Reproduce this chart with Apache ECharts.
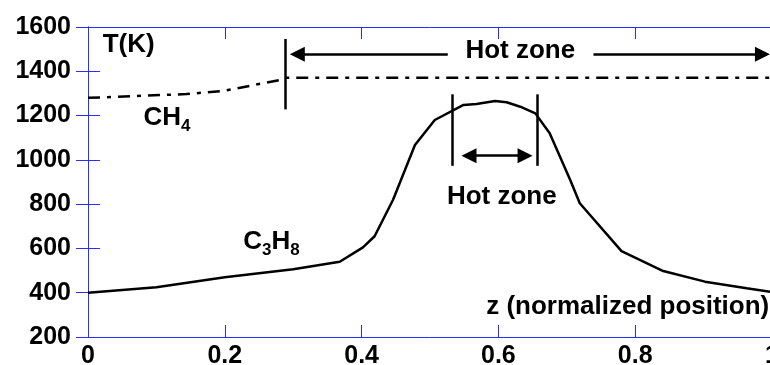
<!DOCTYPE html>
<html><head><meta charset="utf-8">
<script src="https://cdn.jsdelivr.net/npm/echarts@6/dist/echarts.min.js"></script>
<style>html,body{margin:0;padding:0;background:#fff}#c{width:770px;height:365px}</style>
</head><body><div id="c"></div>
<script>
// C3H8 temperature profile
const c3h8X = [0, 0.1, 0.2, 0.3, 0.368, 0.402, 0.419, 0.446, 0.478, 0.507, 0.549, 0.568, 0.595, 0.612, 0.632, 0.654, 0.675, 0.705, 0.719, 0.78, 0.841, 0.902, 0.963, 1.0];
const c3h8Y = [400, 425, 470, 506, 540, 605, 655, 820, 1067, 1180, 1248, 1252, 1266, 1260, 1240, 1210, 1120, 909, 804, 588, 498, 450, 420, 403];
// CH4 temperature profile
const ch4X = [0, 0.144, 0.197, 0.28, 0.288, 1.0];
const ch4Y = [1280, 1297, 1311, 1360, 1371, 1371];
// axes
const xTicks = [0, 0.2, 0.4, 0.6, 0.8, 1];
const yTicks = [200, 400, 600, 800, 1000, 1200, 1400, 1600];
// annotations (CH4 hot zone)
const hz1Edge = 0.288, hz1Span = [1228, 1546], hz1ArrowY = 1477;
const hz1ArrowLeft = [0.306, 0.526], hz1ArrowRight = [0.739, 0.986];
// annotations (C3H8 hot zone)
const hz2Edges = [0.533, 0.657], hz2Span = [973, 1296], hz2ArrowY = 1019, hz2Arrow = [0.557, 0.639];
// text labels
const textLabels = [
  {text: '{m|T(K)}', x: 0.0215, y: 1518, align: 'left'},
  {text: '{m|CH}{s|4}', x: 0.081, y: 1190, align: 'left'},
  {text: '{m|C}{s|3}{m|H}{s|8}', x: 0.227, y: 630, align: 'left'},
  {text: '{m|Hot zone}', x: 0.632, y: 1492, align: 'center'},
  {text: '{m|Hot zone}', x: 0.605, y: 832, align: 'center'},
  {text: '{m|z (normalized position)}', x: 0.996, y: 335, align: 'right'}
];

const FONT = "'Liberation Sans', Arial, sans-serif";
const AXC = '#2b2bff';
const LW = 2.5;
const chart = echarts.init(document.getElementById('c'), null, {renderer: 'canvas'});

const tri = 15;
const ml = (a, b, sa, sb) => [
  {coord: a, symbol: sa || 'none', symbolSize: tri},
  {coord: b, symbol: sb || 'none', symbolSize: tri}
];

const option = {
  animation: false,
  backgroundColor: '#fff',
  grid: {left: 88, top: 27, right: -2, bottom: 28, containLabel: false, outerBoundsMode: 'none'},
  xAxis: [{
    type: 'value', min: xTicks[0], max: xTicks[xTicks.length - 1], interval: xTicks[1] - xTicks[0],
    axisLine: {show: true, lineStyle: {color: AXC, width: 1}},
    axisTick: {show: true, inside: true, length: 12, lineStyle: {color: AXC}},
    axisLabel: {color: '#000', fontFamily: FONT, fontWeight: 'bold', fontSize: 25, margin: 7, hideOverlap: false,
      formatter: v => String(+v.toFixed(1))},
    splitLine: {show: false}
  }, {
    type: 'value', position: 'top', min: xTicks[0], max: xTicks[xTicks.length - 1], interval: xTicks[1] - xTicks[0],
    axisLine: {show: true, lineStyle: {color: AXC, width: 1}},
    axisTick: {show: true, inside: true, length: 12, lineStyle: {color: AXC}},
    axisLabel: {show: false}, splitLine: {show: false}
  }],
  yAxis: [{
    type: 'value', min: yTicks[0], max: yTicks[yTicks.length - 1], interval: yTicks[1] - yTicks[0],
    axisLine: {show: true, lineStyle: {color: AXC, width: 1}},
    axisTick: {show: true, inside: true, length: 12, lineStyle: {color: AXC}},
    axisLabel: {color: '#000', fontFamily: FONT, fontWeight: 'bold', fontSize: 25, margin: 17,
      formatter: v => String(v)},
    splitLine: {show: false}
  }, {
    type: 'value', position: 'right', min: yTicks[0], max: yTicks[yTicks.length - 1], interval: yTicks[1] - yTicks[0],
    axisLine: {show: true, lineStyle: {color: AXC, width: 1}},
    axisTick: {show: true, inside: true, length: 12, lineStyle: {color: AXC}},
    axisLabel: {show: false}, splitLine: {show: false}
  }],
  series: [{
    name: 'C3H8', type: 'line', symbol: 'none',
    data: c3h8X.map((x, i) => [x, c3h8Y[i]]),
    lineStyle: {color: '#000', width: LW},
    markLine: {
      silent: true, symbol: 'none', label: {show: false},
      lineStyle: {color: '#000', width: LW, type: 'solid'},
      emphasis: {disabled: true},
      data: [
        ml([hz1Edge, hz1Span[0]], [hz1Edge, hz1Span[1]]),
        ml([hz1ArrowLeft[0], hz1ArrowY], [hz1ArrowLeft[1], hz1ArrowY], 'triangle', 'none'),
        ml([hz1ArrowRight[0], hz1ArrowY], [hz1ArrowRight[1], hz1ArrowY], 'none', 'triangle'),
        ml([hz2Edges[0], hz2Span[0]], [hz2Edges[0], hz2Span[1]]),
        ml([hz2Edges[1], hz2Span[0]], [hz2Edges[1], hz2Span[1]]),
        ml([hz2Arrow[0], hz2ArrowY], [hz2Arrow[1], hz2ArrowY], 'triangle', 'triangle')
      ]
    }
  }, {
    name: 'CH4', type: 'line', symbol: 'none',
    data: ch4X.map((x, i) => [x, ch4Y[i]]),
    lineStyle: {color: '#000', width: LW, type: [12, 7, 4, 7]}
  }, {
    name: 'labels', type: 'scatter', symbolSize: 1, itemStyle: {color: 'rgba(0,0,0,0)', opacity: 1},
    silent: true, z: 5,
    data: textLabels.map(t => ({
      value: [t.x, t.y],
      label: {show: true, position: 'inside', align: t.align, verticalAlign: 'middle', formatter: t.text}
    })),
    label: {
      color: '#000', opacity: 1, textBorderWidth: 0, textShadowBlur: 0,
      rich: {
        m: {fontFamily: FONT, fontWeight: 'bold', fontSize: 26, color: '#000', lineHeight: 34, verticalAlign: 'middle', textBorderWidth: 0},
        s: {fontFamily: FONT, fontWeight: 'bold', fontSize: 17, color: '#000', lineHeight: 34, verticalAlign: 'bottom', textBorderWidth: 0}
      }
    }
  }]
};
chart.setOption(option);
</script></body></html>
